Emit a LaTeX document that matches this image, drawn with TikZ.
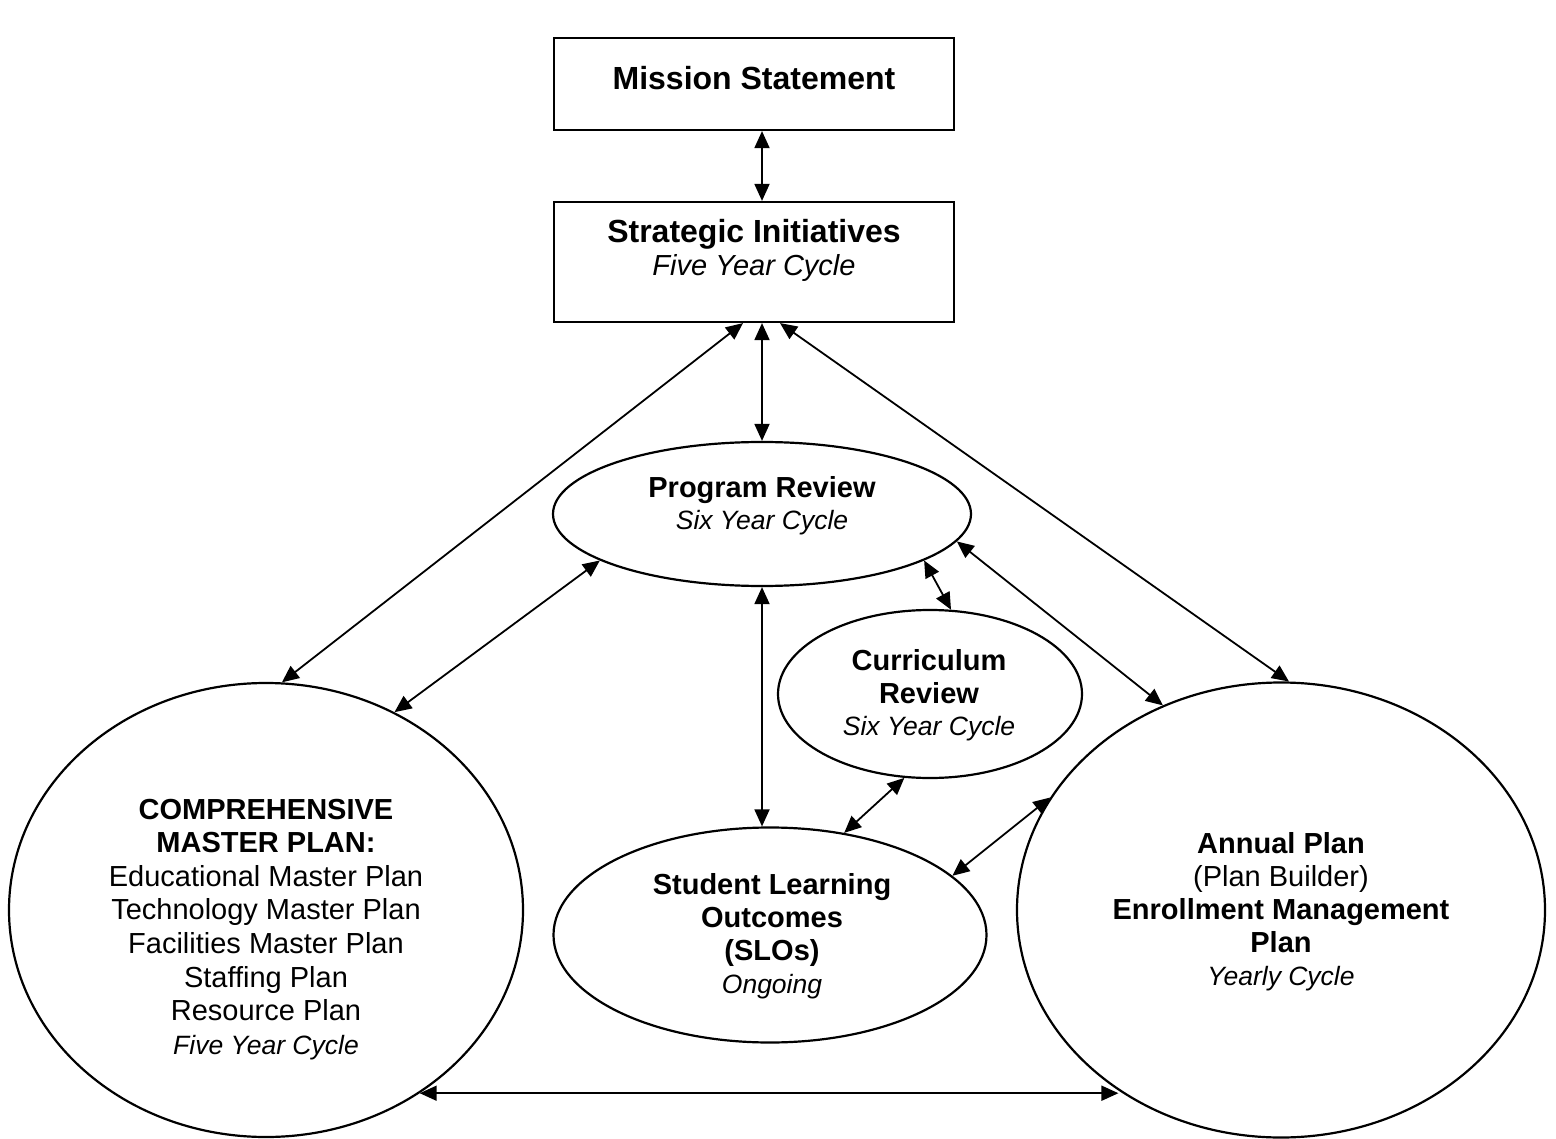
\documentclass[tikz,border=0pt]{standalone}
\usepackage{fontspec}
\setmainfont{Liberation Sans}
\usetikzlibrary{arrows.meta,shapes.geometric}
\begin{document}
\begin{tikzpicture}[x=1pt,y=-1pt,
  box/.style={draw, line width=2.2pt, rectangle, inner sep=0pt},
  oval/.style={draw, line width=2.2pt, ellipse, inner sep=0pt},
  lbl/.style={align=center, inner sep=0pt},
  link/.style={line width=1.8pt, arrows={Triangle[length=17pt,width=15pt]-Triangle[length=17pt,width=15pt]}},
]
\useasboundingbox (0,0) rectangle (1556,1139);
% shapes
\node[box, minimum width=400pt, minimum height=92pt] (ms) at (754,84) {};
\node[box, minimum width=400pt, minimum height=120pt] (si) at (754,262) {};
\node[oval, minimum width=418pt, minimum height=144pt] (pr) at (762,514) {};
\node[oval, minimum width=304pt, minimum height=168pt] (cr) at (930,694) {};
\node[oval, minimum width=433pt, minimum height=215pt] (slo) at (770,935) {};
\node[oval, minimum width=514pt, minimum height=454pt] (cmp) at (266,910) {};
\node[oval, minimum width=528pt, minimum height=455pt] (ap) at (1281,910) {};
% texts
\node[lbl, font=\fontsize{32}{37}\selectfont\bfseries] (mst) at (754,82) {\strut Mission Statement};
\node[lbl, font=\fontsize{29}{33}\selectfont] (sit) at (754,252.5)
  {{\fontsize{32}{33}\selectfont\bfseries\strut Strategic Initiatives}\\{\itshape\strut Five Year Cycle}};
\node[lbl, font=\fontsize{29}{32}\selectfont] (prt) at (762,507.5)
  {{\bfseries\strut Program Review}\\{\fontsize{26.5}{32}\selectfont\itshape\strut Six Year Cycle}};
\node[lbl, font=\fontsize{29}{32.5}\selectfont] (crt) at (929,696.5)
  {{\bfseries\strut Curriculum}\\{\bfseries Review}\\{\fontsize{26.5}{32.5}\selectfont\itshape\strut Six Year Cycle}};
\node[lbl, font=\fontsize{29}{33}\selectfont] (slot) at (772,937)
  {{\bfseries\strut Student Learning}\\{\bfseries Outcomes}\\{\bfseries (SLOs)}\\{\fontsize{26.5}{33}\selectfont\itshape\strut Ongoing}};
\node[lbl, font=\fontsize{29}{33.6}\selectfont] (cmpt) at (266,930)
  {{\bfseries\strut COMPREHENSIVE}\\{\bfseries MASTER PLAN:}\\Educational Master Plan\\Technology Master Plan\\Facilities Master Plan\\Staffing Plan\\Resource Plan\\{\fontsize{26.5}{33.6}\selectfont\itshape\strut Five Year Cycle}};
\node[lbl, font=\fontsize{29}{33}\selectfont] (apt) at (1281,913)
  {{\bfseries\strut Annual Plan}\\(Plan Builder)\\{\bfseries Enrollment Management}\\{\bfseries Plan}\\{\fontsize{26.5}{33}\selectfont\itshape\strut Yearly Cycle}};
% connectors
\draw[link] ([xshift=8pt]ms.south) -- ([xshift=8pt]si.north);
\draw[link] ([xshift=8pt]si.south) -- (pr.north);
\draw[link] ([xshift=-11pt]si.south) -- (cmp.86);
\draw[link] ([xshift=26pt]si.south) -- (ap.88);
\draw[link] (pr.196) -- (cmp.57);
\draw[link] (pr.344) -- (cr.76);
\draw[link] (pr.352) -- (ap.120);
\draw[link] (pr.south) -- (pr.south |- slo.north);
\draw[link] (cr.253) -- (slo.54);
\draw[link] (slo.18) -- (ap.154.5);
\draw[link] (cmp.310.6) -- (ap.228.5 |- cmp.310.6);
\end{tikzpicture}
\end{document}
